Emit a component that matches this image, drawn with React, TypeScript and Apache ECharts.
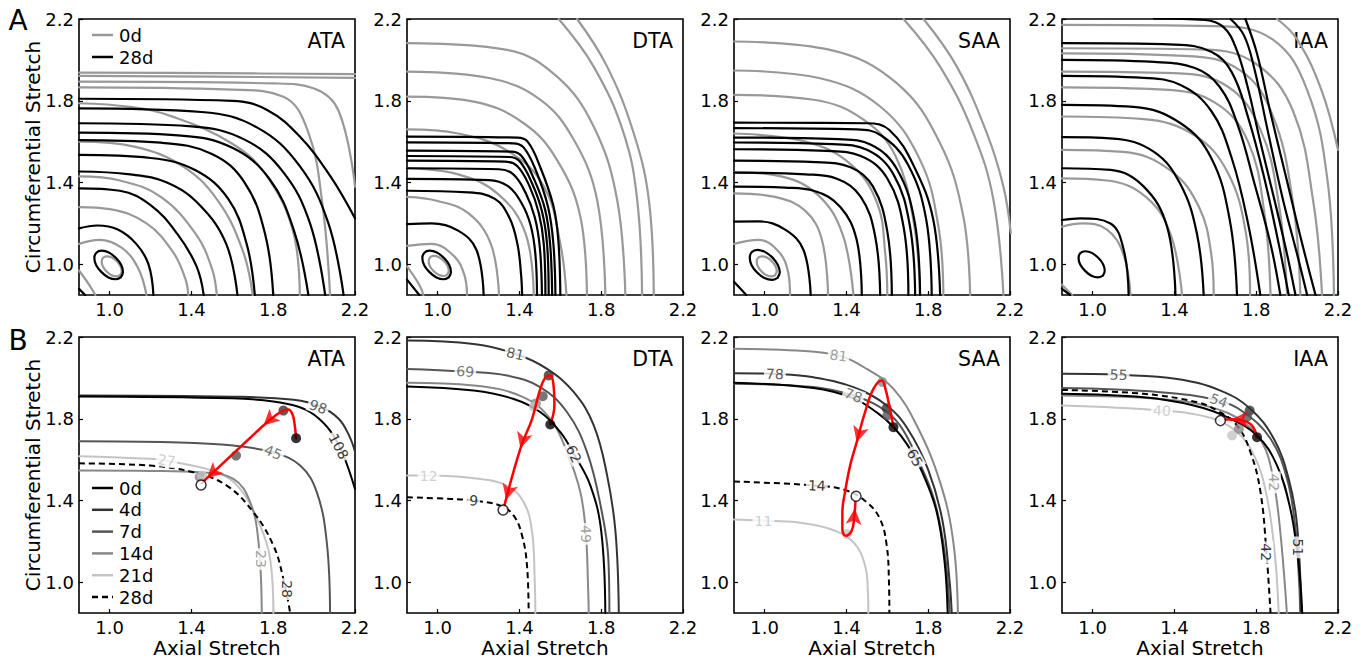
import React, { useEffect, useRef } from 'react';
import * as echarts from 'echarts';

type Pt = [number, number];
type Curve = Pt[];
type Lbl = [number, number, string, number, number];

// ================= DATA =================
const regions = ['ATA', 'DTA', 'SAA', 'IAA'];
const stretchTicks = [1.0, 1.4, 1.8, 2.2];
const stretchRange = [0.85, 2.2];
const topLegend = ['0d', '28d'];
const dayLabels = ['0d', '4d', '7d', '14d', '21d', '28d'];

// ---- Panel A: contours at 0d (grey) and 28d (black) ----
const ataTop0d: Curve[] = [
  [[1.052, 0.948], [1.059, 0.966], [1.053, 0.991], [1.035, 1.015], [1.011, 1.033], [0.986, 1.039], [0.968, 1.032], [0.961, 1.014], [0.967, 0.989], [0.985, 0.965], [1.009, 0.947], [1.034, 0.941], [1.052, 0.948]],
  [[0.85, 0.97], [0.9, 0.9], [0.93, 0.85]],
  [[0.85, 1.1], [0.95, 1.12], [1.06, 1.08], [1.14, 0.98], [1.18, 0.85]],
  [[0.85, 1.28], [1.0, 1.27], [1.18, 1.2], [1.31, 1.06], [1.37, 0.93], [1.385, 0.85]],
  [[0.85, 1.43], [1.05, 1.41], [1.25, 1.33], [1.42, 1.15], [1.5, 0.98], [1.524, 0.85]],
  [[0.85, 1.6], [1.12, 1.576], [1.36, 1.478], [1.53, 1.31], [1.65, 1.07], [1.7, 0.85]],
  [[0.85, 1.788], [1.1, 1.77], [1.3, 1.725], [1.6, 1.59], [1.77, 1.43], [1.9, 1.15], [1.93, 0.85]],
  [[0.85, 1.866], [1.6, 1.855], [1.85, 1.82], [1.97, 1.65], [2.04, 1.3], [2.078, 0.85]],
  [[0.85, 1.894], [1.8, 1.885], [2.0, 1.86], [2.12, 1.75], [2.2, 1.38]],
  [[0.85, 1.922], [1.5, 1.918], [2.2, 1.912]],
  [[0.85, 1.938], [1.5, 1.935], [2.2, 1.93]],
];
const ataTop28d: Curve[] = [
  [[1.055, 0.937], [1.065, 0.963], [1.056, 0.998], [1.03, 1.032], [0.996, 1.058], [0.961, 1.067], [0.935, 1.057], [0.925, 1.031], [0.934, 0.996], [0.96, 0.962], [0.994, 0.936], [1.029, 0.927], [1.055, 0.937]],
  [[0.85, 1.176], [0.94, 1.19], [1.04, 1.17], [1.13, 1.1], [1.19, 1.0], [1.214, 0.85]],
  [[0.85, 0.88], [0.88, 0.85]],
  [[0.85, 1.372], [1.05, 1.36], [1.2, 1.29], [1.33, 1.15], [1.425, 0.99], [1.46, 0.85]],
  [[0.85, 1.454], [1.1, 1.44], [1.28, 1.4], [1.44, 1.29], [1.57, 1.1], [1.625, 0.85]],
  [[0.85, 1.535], [1.2, 1.52], [1.42, 1.46], [1.58, 1.32], [1.67, 1.1], [1.71, 0.85]],
  [[0.85, 1.608], [1.25, 1.595], [1.5, 1.54], [1.66, 1.4], [1.76, 1.15], [1.8, 0.85]],
  [[0.85, 1.644], [1.35, 1.63], [1.6, 1.57], [1.78, 1.42], [1.9, 1.17], [1.972, 0.85]],
  [[0.85, 1.69], [1.4, 1.675], [1.66, 1.61], [1.85, 1.45], [1.98, 1.2], [2.054, 0.85]],
  [[0.85, 1.763], [1.45, 1.745], [1.72, 1.67], [1.93, 1.48], [2.07, 1.2], [2.144, 0.85]],
  [[0.85, 1.81], [1.6, 1.8], [1.77, 1.755], [1.93, 1.625], [2.08, 1.43], [2.2, 1.225]],
];
const dtaTop0d: Curve[] = [
  [[1.047, 0.95], [1.054, 0.968], [1.048, 0.993], [1.03, 1.017], [1.006, 1.035], [0.981, 1.041], [0.963, 1.034], [0.956, 1.016], [0.962, 0.991], [0.98, 0.967], [1.004, 0.949], [1.029, 0.943], [1.047, 0.95]],
  [[0.85, 0.99], [0.91, 0.9], [0.93, 0.85]],
  [[0.85, 1.09], [0.97, 1.1], [1.08, 1.04], [1.13, 0.95], [1.144, 0.85]],
  [[0.85, 1.33], [1.0, 1.31], [1.15, 1.25], [1.26, 1.1], [1.3, 0.85]],
  [[0.85, 1.47], [1.1, 1.44], [1.3, 1.34], [1.43, 1.15], [1.47, 0.85]],
  [[0.85, 1.66], [1.1, 1.64], [1.35, 1.55], [1.52, 1.38], [1.6, 1.1], [1.63, 0.85]],
  [[0.85, 1.82], [1.176, 1.796], [1.421, 1.69], [1.584, 1.51], [1.698, 1.233], [1.73, 0.85]],
  [[0.85, 1.943], [1.258, 1.91], [1.503, 1.804], [1.666, 1.609], [1.78, 1.315], [1.82, 0.85]],
  [[0.85, 2.082], [1.339, 2.049], [1.584, 1.918], [1.763, 1.674], [1.878, 1.315], [1.918, 0.85]],
  [[1.592, 2.2], [1.763, 1.967], [1.91, 1.641], [1.976, 1.315], [2.0, 0.85]],
  [[1.682, 2.2], [1.829, 1.967], [1.959, 1.641], [2.033, 1.315], [2.057, 0.85]],
];
const dtaTop28d: Curve[] = [
  [[1.055, 0.937], [1.065, 0.963], [1.056, 0.998], [1.03, 1.032], [0.996, 1.058], [0.961, 1.067], [0.935, 1.057], [0.925, 1.031], [0.934, 0.996], [0.96, 0.962], [0.994, 0.936], [1.029, 0.927], [1.055, 0.937]],
  [[0.85, 0.925], [0.91, 0.85]],
  [[0.85, 1.197], [0.97, 1.2], [1.1, 1.165], [1.19, 1.07], [1.225, 0.85]],
  [[0.85, 1.36], [1.15, 1.352], [1.28, 1.32], [1.35, 1.23], [1.39, 1.1], [1.408, 0.95], [1.413, 0.85]],
  [[0.85, 1.418], [1.25, 1.412], [1.34, 1.385], [1.41, 1.3], [1.455, 1.19], [1.478, 1.05], [1.486, 0.85]],
  [[0.85, 1.47], [1.3, 1.465], [1.37, 1.44], [1.43, 1.35], [1.475, 1.23], [1.5, 1.08], [1.51, 0.85]],
  [[0.85, 1.507], [1.33, 1.502], [1.39, 1.48], [1.45, 1.38], [1.495, 1.25], [1.519, 1.1], [1.527, 0.85]],
  [[0.85, 1.53], [1.35, 1.525], [1.4, 1.505], [1.46, 1.4], [1.51, 1.26], [1.535, 1.1], [1.543, 0.85]],
  [[0.85, 1.556], [1.36, 1.551], [1.41, 1.53], [1.47, 1.42], [1.525, 1.27], [1.55, 1.1], [1.56, 0.85]],
  [[0.85, 1.597], [1.37, 1.592], [1.42, 1.572], [1.48, 1.46], [1.54, 1.28], [1.566, 1.1], [1.576, 0.85]],
  [[0.85, 1.625], [1.39, 1.62], [1.44, 1.6], [1.5, 1.48], [1.565, 1.29], [1.59, 1.12], [1.6, 0.85]],
];
const saaTop0d: Curve[] = [
  [[1.052, 0.948], [1.059, 0.966], [1.053, 0.991], [1.035, 1.015], [1.011, 1.033], [0.986, 1.039], [0.968, 1.032], [0.961, 1.014], [0.967, 0.989], [0.985, 0.965], [1.009, 0.947], [1.034, 0.941], [1.052, 0.948]],
  [[0.85, 1.1], [0.97, 1.12], [1.07, 1.06], [1.115, 0.96], [1.124, 0.85]],
  [[0.85, 1.347], [1.05, 1.33], [1.2, 1.26], [1.28, 1.12], [1.31, 0.85]],
  [[0.85, 1.45], [1.08, 1.43], [1.26, 1.34], [1.38, 1.15], [1.434, 0.85]],
  [[0.85, 1.64], [1.2, 1.6], [1.42, 1.49], [1.55, 1.3], [1.59, 1.05], [1.6, 0.85]],
  [[0.85, 1.829], [1.24, 1.805], [1.48, 1.71], [1.64, 1.53], [1.73, 1.2], [1.76, 0.85]],
  [[0.85, 1.948], [1.271, 1.91], [1.565, 1.772], [1.76, 1.511], [1.85, 1.184], [1.874, 0.85]],
  [[0.85, 2.09], [1.32, 2.049], [1.646, 1.886], [1.858, 1.592], [1.972, 1.233], [2.005, 0.85]],
  [[1.679, 2.2], [1.858, 1.967], [2.021, 1.641], [2.119, 1.315], [2.168, 0.85]],
  [[1.777, 2.2], [1.94, 1.967], [2.087, 1.641], [2.168, 1.38], [2.204, 1.152]],
];
const saaTop28d: Curve[] = [
  [[1.063, 0.934], [1.074, 0.961], [1.064, 0.998], [1.037, 1.034], [1.001, 1.061], [0.964, 1.071], [0.937, 1.06], [0.927, 1.033], [0.936, 0.996], [0.963, 0.96], [0.999, 0.933], [1.036, 0.924], [1.063, 0.934]],
  [[0.85, 0.915], [0.91, 0.85]],
  [[0.85, 1.209], [0.97, 1.21], [1.1, 1.17], [1.19, 1.07], [1.225, 0.85]],
  [[0.85, 1.38], [1.1, 1.375], [1.24, 1.36], [1.37, 1.28], [1.45, 1.12], [1.475, 0.85]],
  [[0.85, 1.449], [1.2, 1.44], [1.35, 1.42], [1.47, 1.33], [1.54, 1.14], [1.565, 0.85]],
  [[0.85, 1.507], [1.25, 1.5], [1.42, 1.475], [1.53, 1.38], [1.6, 1.16], [1.622, 0.85]],
  [[0.85, 1.563], [1.3, 1.555], [1.47, 1.53], [1.6, 1.42], [1.68, 1.18], [1.703, 0.85]],
  [[0.85, 1.596], [1.33, 1.588], [1.5, 1.56], [1.63, 1.44], [1.71, 1.19], [1.736, 0.85]],
  [[0.85, 1.62], [1.36, 1.612], [1.52, 1.585], [1.65, 1.46], [1.735, 1.2], [1.76, 0.85]],
  [[0.85, 1.666], [1.45, 1.66], [1.57, 1.63], [1.7, 1.49], [1.79, 1.22], [1.817, 0.85]],
  [[0.85, 1.693], [1.5, 1.69], [1.61, 1.657], [1.73, 1.48], [1.825, 1.217], [1.858, 0.85]],
];
const iaaTop0d: Curve[] = [
  [[0.85, 0.9], [0.9, 0.85]],
  [[0.85, 1.184], [0.95, 1.2], [1.07, 1.17], [1.15, 1.05], [1.185, 0.85]],
  [[0.85, 1.42], [1.07, 1.41], [1.26, 1.33], [1.38, 1.15], [1.437, 0.85]],
  [[0.85, 1.56], [1.15, 1.55], [1.38, 1.46], [1.52, 1.28], [1.58, 1.05], [1.592, 0.85]],
  [[0.85, 1.723], [1.25, 1.71], [1.5, 1.63], [1.66, 1.45], [1.75, 1.15], [1.77, 0.85]],
  [[0.85, 1.866], [1.35, 1.855], [1.6, 1.79], [1.76, 1.6], [1.84, 1.25], [1.87, 0.85]],
  [[0.85, 1.943], [1.4, 1.935], [1.66, 1.87], [1.82, 1.66], [1.91, 1.3], [1.951, 0.85]],
  [[0.85, 2.032], [1.45, 2.02], [1.72, 1.95], [1.88, 1.73], [1.98, 1.3], [2.016, 0.85]],
  [[0.85, 2.057], [1.55, 2.05], [1.8, 1.98], [1.98, 1.75], [2.08, 1.3], [2.122, 0.85]],
  [[0.85, 2.171], [1.6, 2.165], [1.88, 2.1], [2.05, 1.85], [2.15, 1.4], [2.18, 0.85]],
  [[1.902, 2.2], [2.0, 2.1], [2.12, 1.85], [2.2, 1.56]],
];
const iaaTop28d: Curve[] = [
  [[1.05, 0.945], [1.059, 0.969], [1.051, 1.001], [1.027, 1.032], [0.996, 1.056], [0.964, 1.064], [0.94, 1.055], [0.931, 1.031], [0.939, 0.999], [0.963, 0.968], [0.994, 0.944], [1.026, 0.936], [1.05, 0.945]],
  [[0.85, 0.88], [0.89, 0.85]],
  [[0.85, 1.217], [0.94, 1.225], [1.087, 1.2], [1.152, 1.07], [1.176, 0.85]],
  [[0.85, 1.47], [1.087, 1.462], [1.25, 1.38], [1.364, 1.184], [1.405, 0.85]],
  [[0.85, 1.622], [1.1, 1.615], [1.3, 1.55], [1.43, 1.39], [1.51, 1.15], [1.543, 0.85]],
  [[0.85, 1.78], [1.2, 1.77], [1.43, 1.69], [1.58, 1.52], [1.67, 1.22], [1.706, 0.85]],
  [[0.85, 1.922], [1.25, 1.912], [1.43, 1.877], [1.58, 1.75], [1.68, 1.52], [1.76, 1.2], [1.82, 0.85]],
  [[0.85, 2.0], [1.3, 1.99], [1.5, 1.96], [1.62, 1.87], [1.71, 1.68], [1.79, 1.4], [1.87, 1.1], [1.918, 0.85]],
  [[0.85, 2.082], [1.4, 2.075], [1.58, 2.04], [1.68, 1.94], [1.76, 1.72], [1.84, 1.42], [1.91, 1.1], [1.959, 0.85]],
  [[1.3, 2.203], [1.55, 2.195], [1.64, 2.16], [1.7, 2.06], [1.755, 1.88], [1.82, 1.6], [1.9, 1.27], [1.955, 1.03], [1.992, 0.85]],
  [[1.674, 2.2], [1.74, 2.12], [1.79, 1.96], [1.855, 1.66], [1.93, 1.32], [2.0, 1.05], [2.049, 0.85]],
  [[1.747, 2.2], [1.804, 2.03], [1.87, 1.74], [1.95, 1.41], [2.02, 1.12], [2.09, 0.85]],
];

// ---- Panel B: one contour per day (order of dayLabels) ----
const ataDayCurves: Curve[] = [
  [[0.85, 1.909], [1.6, 1.9], [1.8, 1.885], [1.92, 1.86], [2.0, 1.82], [2.08, 1.74], [2.14, 1.63], [2.2, 1.457]],
  [[0.85, 1.914], [1.6, 1.908], [1.9, 1.893], [2.03, 1.86], [2.12, 1.8], [2.17, 1.72], [2.2, 1.64]],
  [[0.85, 1.69], [1.3, 1.685], [1.605, 1.669], [1.8, 1.635], [1.932, 1.571], [2.013, 1.441], [2.062, 1.196], [2.078, 0.85]],
  [[0.85, 1.547], [1.2, 1.545], [1.44, 1.538], [1.605, 1.506], [1.687, 1.392], [1.728, 1.196], [1.744, 0.85]],
  [[0.85, 1.617], [1.197, 1.604], [1.279, 1.595], [1.524, 1.538], [1.638, 1.457], [1.736, 1.277], [1.785, 1.114], [1.801, 0.85]],
  [[0.85, 1.582], [1.197, 1.571], [1.41, 1.538], [1.573, 1.473], [1.703, 1.343], [1.801, 1.18], [1.85, 1.016], [1.883, 0.85]],
];
const ataDayMarkers: Pt[] = [[1.912, 1.705], [1.85, 1.84], [1.618, 1.62], [1.44, 1.515], [1.452, 1.522], [1.447, 1.476]];
const ataRedPath: Curve = [[1.912, 1.705], [1.905, 1.77], [1.895, 1.82], [1.874, 1.845], [1.84, 1.835], [1.79, 1.8], [1.752, 1.767], [1.45, 1.485]];
const ataMidArrows = [6];
const ataContourLabels: Lbl[] = [
  [2.12, 1.665, '108', -62, 0], [2.02, 1.858, '98', -20, 1], [1.8, 1.636, '45', -22, 2],
  [1.738, 1.114, '23', -90, 3], [1.279, 1.597, '27', -8, 4], [1.866, 0.967, '28', -90, 5],
];

const dtaDayCurves: Curve[] = [
  [[0.85, 1.958], [1.176, 1.938], [1.372, 1.897], [1.503, 1.832], [1.601, 1.734], [1.666, 1.628], [1.747, 1.473], [1.8, 1.25], [1.82, 0.85]],
  [[0.85, 2.183], [1.176, 2.166], [1.38, 2.118], [1.535, 2.044], [1.666, 1.93], [1.764, 1.767], [1.829, 1.522], [1.87, 1.245], [1.886, 0.85]],
  [[0.85, 2.044], [1.135, 2.031], [1.339, 2.012], [1.503, 1.954], [1.633, 1.832], [1.731, 1.636], [1.8, 1.36], [1.835, 1.114], [1.84, 0.85]],
  [[0.85, 1.976], [1.176, 1.963], [1.421, 1.905], [1.551, 1.799], [1.633, 1.636], [1.698, 1.441], [1.725, 1.237], [1.735, 1.0], [1.739, 0.85]],
  [[0.85, 1.522], [0.956, 1.522], [1.176, 1.509], [1.339, 1.473], [1.421, 1.392], [1.462, 1.245], [1.475, 1.0], [1.478, 0.85]],
  [[0.85, 1.416], [1.062, 1.408], [1.176, 1.4], [1.307, 1.375], [1.372, 1.326], [1.413, 1.228], [1.437, 1.082], [1.445, 0.85]],
];
const dtaDayMarkers: Pt[] = [[1.551, 1.772], [1.543, 2.012], [1.514, 1.91], [1.48, 1.875], [1.47, 1.86], [1.32, 1.354]];
const dtaRedPath: Curve = [[1.551, 1.772], [1.571, 1.865], [1.566, 1.97], [1.551, 2.012], [1.525, 2.0], [1.497, 1.93], [1.462, 1.8], [1.405, 1.655], [1.325, 1.37]];
const dtaMidArrows = [7];
const dtaContourLabels: Lbl[] = [
  [1.666, 1.628, '62', -65, 0], [1.38, 2.118, '81', -12, 1], [1.135, 2.031, '69', -3, 2],
  [1.724, 1.237, '49', -90, 3], [0.956, 1.522, '12', 0, 4], [1.176, 1.4, '9', -3, 5],
];

const saaDayCurves: Curve[] = [
  [[0.85, 1.976], [1.238, 1.95], [1.434, 1.9], [1.55, 1.83], [1.63, 1.76], [1.7, 1.67], [1.77, 1.54], [1.84, 1.35], [1.88, 1.1], [1.895, 0.85]],
  [[0.85, 2.023], [1.05, 2.019], [1.238, 2.003], [1.434, 1.954], [1.597, 1.865], [1.7, 1.75], [1.8, 1.55], [1.87, 1.3], [1.905, 1.0], [1.915, 0.85]],
  [[0.85, 1.971], [1.238, 1.955], [1.434, 1.914], [1.564, 1.857], [1.66, 1.77], [1.75, 1.6], [1.83, 1.4], [1.88, 1.15], [1.905, 0.85]],
  [[0.85, 2.142], [1.157, 2.134], [1.361, 2.109], [1.499, 2.044], [1.63, 1.946], [1.744, 1.767], [1.858, 1.49], [1.923, 1.196], [1.945, 0.85]],
  [[0.85, 1.307], [0.994, 1.302], [1.157, 1.294], [1.32, 1.261], [1.434, 1.196], [1.491, 1.082], [1.505, 0.95], [1.507, 0.85]],
  [[0.85, 1.493], [1.255, 1.473], [1.401, 1.449], [1.499, 1.392], [1.564, 1.31], [1.597, 1.18], [1.608, 1.0], [1.61, 0.85]],
];
const saaDayMarkers: Pt[] = [[1.63, 1.759], [1.597, 1.852], [1.6, 1.816], [1.575, 1.98], [1.401, 1.237], [1.447, 1.421]];
const saaRedPath: Curve = [[1.63, 1.759], [1.613, 1.848], [1.589, 1.954], [1.573, 1.987], [1.532, 1.946], [1.491, 1.832], [1.45, 1.685], [1.418, 1.571], [1.393, 1.441], [1.38, 1.343], [1.38, 1.261], [1.396, 1.228], [1.426, 1.253], [1.437, 1.31], [1.444, 1.395]];
const saaMidArrows = [6];
const saaContourLabels: Lbl[] = [
  [1.735, 1.61, '65', -60, 0], [1.05, 2.019, '78', -2, 1], [1.434, 1.914, '78', -20, 2],
  [1.361, 2.109, '81', -8, 3], [0.994, 1.302, '11', 0, 4], [1.255, 1.473, '14', -3, 5],
];

const iaaDayCurves: Curve[] = [
  [[0.85, 1.922], [1.25, 1.905], [1.494, 1.865], [1.658, 1.808], [1.804, 1.718], [1.902, 1.571], [1.967, 1.359], [2.0, 1.15], [2.016, 1.0], [2.025, 0.85]],
  [[0.85, 2.02], [1.127, 2.015], [1.413, 1.995], [1.625, 1.938], [1.772, 1.848], [1.886, 1.702], [1.959, 1.506], [2.0, 1.277], [2.02, 0.85]],
  [[0.85, 1.95], [1.331, 1.93], [1.617, 1.889], [1.739, 1.832], [1.87, 1.702], [1.951, 1.506], [1.99, 1.277], [2.01, 1.0], [2.015, 0.85]],
  [[0.85, 1.914], [1.331, 1.897], [1.576, 1.857], [1.739, 1.783], [1.837, 1.669], [1.886, 1.489], [1.918, 1.245], [1.95, 0.85]],
  [[0.85, 1.865], [1.339, 1.84], [1.576, 1.805], [1.7, 1.74], [1.79, 1.62], [1.85, 1.43], [1.89, 1.15], [1.91, 0.85]],
  [[0.85, 1.941], [1.25, 1.922], [1.511, 1.881], [1.609, 1.84], [1.706, 1.767], [1.772, 1.636], [1.821, 1.441], [1.85, 1.147], [1.87, 0.85]],
];
const iaaDayMarkers: Pt[] = [[1.804, 1.71], [1.768, 1.84], [1.755, 1.81], [1.715, 1.75], [1.682, 1.718], [1.625, 1.791]];
const iaaRedPath: Curve = [[1.804, 1.71], [1.785, 1.76], [1.755, 1.785], [1.7, 1.797], [1.645, 1.797]];
const iaaMidArrows: number[] = [];
const iaaContourLabels: Lbl[] = [
  [2.005, 1.171, '51', -90, 0], [1.127, 2.015, '55', -2, 1], [1.617, 1.889, '54', -20, 2],
  [1.886, 1.489, '42', -90, 3], [1.339, 1.84, '40', -3, 4], [1.85, 1.147, '42', -90, 5],
];

// ================= STYLE / LAYOUT =================
const FONT = 'DejaVu Sans';
const GREY_TOP = '#999999';
const DAY_COLORS = ['#000000', '#333333', '#555555', '#888888', '#c4c4c4', '#000000'];
const GRID_LEFT = [79, 407, 734, 1062];
const GRID_TOP = [19, 337];
const GRID_SIZE = 276;
const PX_PER_UNIT = GRID_SIZE / (stretchRange[1] - stretchRange[0]);

const topSets = [
  [ataTop0d, ataTop28d], [dtaTop0d, dtaTop28d], [saaTop0d, saaTop28d], [iaaTop0d, iaaTop28d],
];
const bottomSets = [
  { curves: ataDayCurves, markers: ataDayMarkers, path: ataRedPath, mids: ataMidArrows, labels: ataContourLabels },
  { curves: dtaDayCurves, markers: dtaDayMarkers, path: dtaRedPath, mids: dtaMidArrows, labels: dtaContourLabels },
  { curves: saaDayCurves, markers: saaDayMarkers, path: saaRedPath, mids: saaMidArrows, labels: saaContourLabels },
  { curves: iaaDayCurves, markers: iaaDayMarkers, path: iaaRedPath, mids: iaaMidArrows, labels: iaaContourLabels },
];

function lineSeries(g: number, data: Curve, color: string, width: number, type: any, z: number, name?: string) {
  return {
    type: 'line', name, xAxisIndex: g, yAxisIndex: g, data, symbol: 'none', showSymbol: false,
    smooth: 0.4, silent: true, z, clip: true,
    lineStyle: { color, width, type, cap: Array.isArray(type) ? 'butt' : 'round', join: 'round' },
    emphasis: { disabled: true },
  };
}

function buildOption() {
  const grid: any[] = [];
  const xAxis: any[] = [];
  const yAxis: any[] = [];
  const series: any[] = [];
  const graphic: any[] = [];

  for (let row = 0; row < 2; row++) {
    for (let col = 0; col < 4; col++) {
      grid.push({
        left: GRID_LEFT[col], top: GRID_TOP[row], width: GRID_SIZE, height: GRID_SIZE,
        show: true, borderColor: '#000', borderWidth: 1.6, backgroundColor: 'transparent',
      });
      const g = grid.length - 1;
      const axisBase = (margin: number) => ({
        gridIndex: g, type: 'value', min: stretchRange[0], max: stretchRange[1],
        axisLine: { show: false }, splitLine: { show: false },
        axisTick: { show: true, inside: true, length: 4, lineStyle: { color: '#000', width: 1.2 }, customValues: stretchTicks },
        axisLabel: {
          customValues: stretchTicks, formatter: (v: number) => v.toFixed(1),
          color: '#000', fontSize: 18, fontFamily: FONT, margin,
        },
      });
      xAxis.push(axisBase(5));
      yAxis.push(axisBase(5));
    }
  }

  topSets.forEach((set, col) => {
    const g = col;
    set[0].forEach((c) => series.push(lineSeries(g, c, GREY_TOP, 2.2, 'solid', 2, topLegend[0])));
    set[1].forEach((c) => series.push(lineSeries(g, c, '#000', 2.2, 'solid', 3, topLegend[1])));
  });

  bottomSets.forEach((set, col) => {
    const g = 4 + col;
    const order = [4, 3, 2, 1, 0, 5];
    order.forEach((d) => {
      series.push(lineSeries(g, set.curves[d], DAY_COLORS[d], 2, d === 5 ? [6, 4] : 'solid', 2, dayLabels[d]));
    });
    series.push({
      type: 'scatter', xAxisIndex: g, yAxisIndex: g, silent: true, z: 4, symbolSize: 1,
      itemStyle: { color: 'transparent' },
      data: set.labels.map((l) => ({
        value: [l[0], l[1]],
        label: {
          show: true, position: 'inside', formatter: l[2], rotate: l[3],
          color: DAY_COLORS[l[4]], fontSize: 14, fontFamily: FONT,
          backgroundColor: '#fff', padding: [0, 2],
        },
      })),
    });
    series.push({
      type: 'scatter', xAxisIndex: g, yAxisIndex: g, silent: true, z: 5, symbolSize: 10,
      data: set.markers.slice(1, 5).map((p, i) => ({ value: p, itemStyle: { color: DAY_COLORS[i + 1] } })),
    });
    series.push({ ...lineSeries(g, set.path, '#ff0000', 2.5, 'solid', 6) });
    series.push({
      type: 'scatter', xAxisIndex: g, yAxisIndex: g, silent: true, z: 7, symbolSize: 10,
      data: [
        { value: set.markers[0], itemStyle: { color: '#000' } },
        { value: set.markers[5], itemStyle: { color: '#fff', borderColor: '#000', borderWidth: 1.5 } },
      ],
    });
    const arrows: any[] = [];
    const p = set.path;
    set.mids.forEach((i) => {
      const dx = p[i + 1][0] - p[i][0];
      const dy = p[i + 1][1] - p[i][1];
      const ang = (Math.atan2(dy, dx) * 180) / Math.PI;
      arrows.push({ value: p[i], symbolRotate: ang - 90 });
    });
    const n = p.length;
    const ex = p[n - 1][0] - p[n - 2][0];
    const ey = p[n - 1][1] - p[n - 2][1];
    const len = Math.hypot(ex, ey);
    const back = 7 / PX_PER_UNIT;
    arrows.push({
      value: [p[n - 1][0] - (ex / len) * back, p[n - 1][1] - (ey / len) * back],
      symbolRotate: (Math.atan2(ey, ex) * 180) / Math.PI - 90,
    });
    series.push({
      type: 'scatter', xAxisIndex: g, yAxisIndex: g, silent: true, z: 8,
      symbol: 'arrow', symbolSize: [12, 16], itemStyle: { color: '#ff0000' }, data: arrows,
    });
  });

  const txt = (x: number, y: number, text: string, size: number, align = 'center', rotation = 0) => ({
    type: 'text', x, y, rotation, silent: true,
    style: { text, fill: '#000', font: `${size}px "${FONT}"`, textAlign: align, textVerticalAlign: 'middle' },
  });
  graphic.push(txt(18, 20, 'A', 28));
  graphic.push(txt(18, 340, 'B', 28));
  GRID_TOP.forEach((t) => graphic.push(txt(33, t + GRID_SIZE / 2, 'Circumferential Stretch', 20, 'center', Math.PI / 2)));
  GRID_LEFT.forEach((l) => graphic.push(txt(l + GRID_SIZE / 2, 648, 'Axial Stretch', 20)));
  GRID_TOP.forEach((t) => GRID_LEFT.forEach((l, i) => graphic.push(txt(l + GRID_SIZE - 10, t + 22, regions[i], 20.5, 'right'))));

  const legA = [GREY_TOP, '#000'];
  topLegend.forEach((name, i) => {
    const y = 35 + i * 22;
    graphic.push({ type: 'line', silent: true, shape: { x1: 92, y1: y, x2: 113, y2: y }, style: { stroke: legA[i], lineWidth: 2.5 } });
    graphic.push(txt(119, y, name, 18, 'left'));
  });
  dayLabels.forEach((name, i) => {
    const y = 488 + i * 21.8;
    graphic.push({
      type: 'line', silent: true, shape: { x1: 92, y1: y, x2: 113, y2: y },
      style: { stroke: DAY_COLORS[i], lineWidth: 2.5, lineDash: i === 5 ? [6, 4] : null },
    });
    graphic.push(txt(119, y, name, 18, 'left'));
  });

  return { animation: false, backgroundColor: '#fff', grid, xAxis, yAxis, series, graphic };
}

export default function App() {
  const ref = useRef<HTMLDivElement>(null);
  useEffect(() => {
    if (!ref.current) return;
    const chart = echarts.init(ref.current, undefined, { renderer: 'svg' });
    chart.setOption(buildOption() as any);
    return () => chart.dispose();
  }, []);
  return (
    <div
      ref={ref}
      style={{ position: 'absolute', left: 0, top: 0, width: 1370, height: 664, background: '#fff' }}
    />
  );
}
